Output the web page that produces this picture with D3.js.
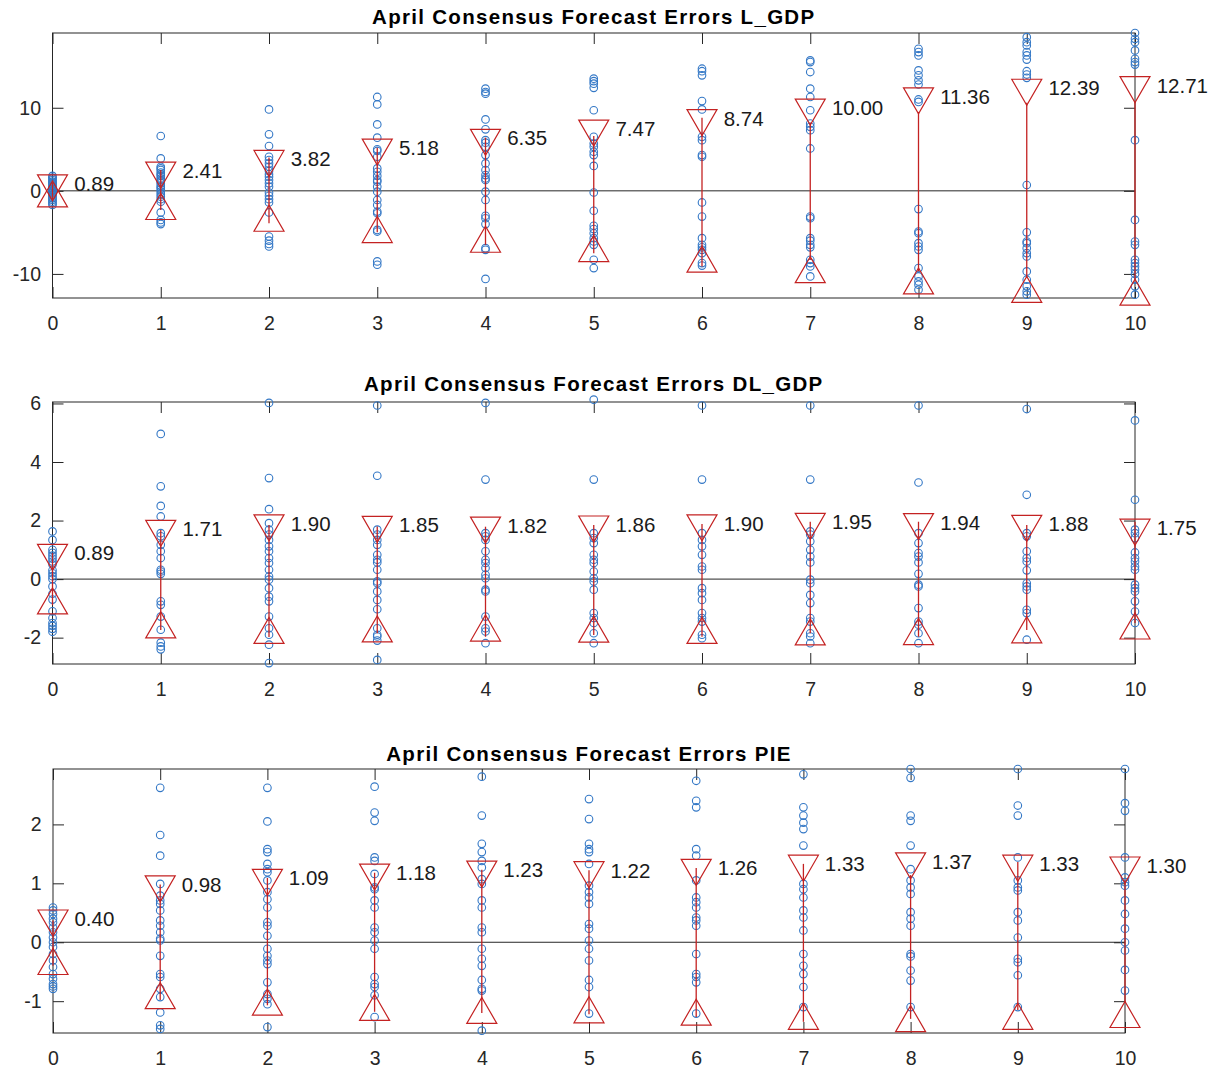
<!DOCTYPE html>
<html>
<head>
<meta charset="utf-8">
<script src="https://cdn.jsdelivr.net/npm/d3@7"></script>
<style>
  body { margin: 0; background: #fff; }
  svg { display: block; font-family: "Liberation Sans", Arial, sans-serif; }
</style>
</head>
<body>
<div id="chart"></div>
<script>
// horizons 0..10
var steps = [0, 1, 2, 3, 4, 5, 6, 7, 8, 9, 10];

// ---- L_GDP ----
var lgdpErrors = [
  [1.8, 1.6, 1.5, 1.3, 1.1, 1.0, 0.8, 0.6, 0.5, 0.3, 0.2, 0.1, 0.0, -0.1, -0.2, -0.4, -0.5, -0.7, -0.9, -1.1, -1.3, -1.5, -1.7],
  [6.6, 3.9, 2.9, 2.7, 2.5, 2.2, 2.0, 1.8, 1.5, 1.3, 1.1, 0.9, 0.6, 0.4, 0.2, -0.1, -0.4, -0.7, -1.0, -1.3, -2.6, -3.5, -3.8, -4.0],
  [9.8, 6.8, 5.4, 4.1, 3.7, 3.3, 2.9, 2.4, 2.0, 1.7, 1.3, 0.9, 0.5, -0.2, -0.6, -1.0, -1.4, -2.6, -5.5, -6.0, -6.4, -6.7],
  [11.3, 10.4, 8.0, 6.4, 5.0, 4.8, 4.1, 2.7, 2.3, 1.8, 1.3, 1.1, 0.5, -0.1, -1.1, -1.7, -2.5, -2.7, -4.7, -4.9, -8.5, -8.9],
  [12.3, 11.9, 11.7, 8.6, 7.4, 6.1, 5.8, 5.3, 4.3, 3.3, 2.5, 1.9, 1.5, 1.3, -0.1, -1.1, -3.0, -3.3, -4.0, -6.9, -7.1, -10.6],
  [13.5, 13.2, 12.9, 12.4, 9.7, 6.5, 5.7, 5.3, 4.7, 4.3, 3.0, -0.2, -2.4, -4.2, -4.6, -5.1, -5.7, -6.1, -6.5, -8.3, -9.3],
  [14.7, 14.4, 13.9, 10.8, 9.8, 6.5, 6.1, 4.3, 4.1, -1.4, -3.1, -5.7, -6.5, -6.8, -7.1, -7.5, -8.7, -9.0],
  [15.7, 15.5, 14.3, 12.3, 11.3, 9.7, 8.1, 7.7, 7.3, 5.1, -3.1, -3.3, -5.7, -6.0, -6.5, -6.8, -8.3, -8.7, -9.1, -10.3],
  [17.1, 16.7, 16.3, 14.5, 13.9, 13.3, 12.8, 11.0, 10.7, -2.2, -4.9, -5.1, -6.3, -6.7, -7.1, -9.3, -10.3, -10.9, -11.3, -11.9],
  [18.5, 17.9, 17.5, 16.7, 16.3, 15.8, 14.4, 14.0, 13.6, 0.7, -5.0, -6.1, -6.3, -6.9, -7.5, -7.9, -9.7, -10.7, -11.5, -12.1, -12.5],
  [19.0, 18.3, 17.9, 16.9, 15.9, 15.5, 15.2, 6.1, -3.5, -6.1, -6.5, -8.3, -8.7, -9.1, -9.5, -10.0, -10.7, -11.5, -12.5]
];
var lgdpSd = [0.89, 2.41, 3.82, 5.18, 6.35, 7.47, 8.74, 10.00, 11.36, 12.39, 12.71];
var lgdpBarHi = [1.0, 2.5, 4.0, 5.2, 6.4, 6.6, 8.8, 8.2, 9.5, 10.6, 10.8];
var lgdpBarLo = [-1.0, -2.3, -3.9, -5.0, -6.5, -7.5, -9.1, -8.3, -9.7, -10.5, -10.8];
var lgdpTicks = [-10, 0, 10];

// ---- DL_GDP ----
var dlgdpErrors = [
  [1.63, 1.34, 1.0, 0.9, 0.8, 0.7, 0.6, 0.5, 0.3, 0.2, 0.1, 0.0, -0.25, -0.5, -0.7, -1.1, -1.33, -1.5, -1.6, -1.7, -1.8],
  [4.96, 3.17, 2.5, 2.14, 1.57, 1.46, 1.17, 0.95, 0.72, 0.32, 0.26, 0.18, -0.76, -0.88, -1.28, -1.73, -2.17, -2.3, -2.4],
  [6.02, 3.45, 2.39, 1.91, 1.69, 1.52, 1.34, 1.12, 0.95, 0.72, 0.55, 0.32, 0.09, -0.02, -0.31, -0.6, -0.76, -1.28, -1.68, -1.9, -2.24, -2.87],
  [5.93, 3.53, 1.69, 1.52, 1.34, 1.17, 0.83, 0.66, 0.57, 0.32, -0.08, -0.14, -0.42, -0.71, -1.03, -1.68, -1.9, -1.96, -2.1, -2.76],
  [6.02, 3.4, 1.57, 1.46, 1.34, 0.95, 0.66, 0.55, 0.38, 0.15, 0.03, -0.36, -0.42, -1.28, -1.68, -1.79, -2.19],
  [6.13, 3.4, 1.57, 1.4, 1.23, 0.83, 0.66, 0.55, 0.26, 0.03, -0.08, -0.36, -1.16, -1.33, -1.5, -1.85, -2.19],
  [5.93, 3.4, 1.57, 1.34, 1.12, 0.83, 0.43, 0.32, -0.31, -0.48, -0.71, -1.16, -1.33, -1.45, -1.9, -2.02],
  [5.93, 3.4, 1.63, 1.52, 1.29, 1.0, 0.77, 0.57, -0.02, -0.14, -0.54, -0.82, -1.33, -1.45, -1.85, -1.96, -2.19],
  [5.93, 3.3, 1.57, 1.23, 0.89, 0.77, 0.57, 0.18, -0.19, -0.25, -0.99, -1.45, -1.56, -1.85, -2.19],
  [5.81, 2.88, 1.57, 1.46, 0.95, 0.72, 0.6, 0.3, -0.14, -0.25, -0.36, -1.05, -1.16, -2.07],
  [5.42, 2.71, 1.69, 1.57, 1.4, 0.91, 0.72, 0.6, 0.43, 0.32, -0.19, -0.31, -0.42, -0.76, -1.11, -1.5]
];
var dlgdpSd = [0.89, 1.71, 1.90, 1.85, 1.82, 1.86, 1.90, 1.95, 1.94, 1.88, 1.75];
var dlgdpBarHi = [0.89, 1.68, 1.85, 1.8, 1.79, 1.85, 1.88, 1.96, 1.96, 1.85, 1.96];
var dlgdpBarLo = [-0.89, -1.74, -1.98, -1.85, -1.97, -1.91, -1.97, -1.85, -1.97, -1.74, -1.5];
var dlgdpTicks = [-2, 0, 2, 4, 6];

// ---- PIE ----
var pieErrors = [
  [0.59, 0.54, 0.48, 0.4, 0.34, 0.25, 0.17, 0.08, 0.0, -0.08, -0.2, -0.31, -0.42, -0.54, -0.62, -0.71, -0.75, -0.79],
  [2.62, 1.82, 1.47, 0.99, 0.79, 0.71, 0.65, 0.54, 0.37, 0.28, 0.17, 0.06, 0.03, -0.23, -0.54, -0.59, -0.79, -0.93, -1.19, -1.41, -1.47],
  [2.62, 2.05, 1.58, 1.53, 1.33, 1.24, 1.19, 1.05, 0.85, 0.73, 0.59, 0.34, 0.28, 0.11, -0.11, -0.23, -0.31, -0.37, -0.68, -0.88, -0.96, -1.05, -1.44],
  [2.64, 2.2, 2.06, 1.44, 1.38, 1.16, 0.93, 0.9, 0.71, 0.59, 0.25, 0.17, 0.03, -0.11, -0.59, -0.71, -0.76, -0.9, -1.27],
  [2.81, 2.15, 1.67, 1.53, 1.38, 1.27, 1.07, 0.99, 0.71, 0.59, 0.25, 0.17, -0.11, -0.28, -0.4, -0.64, -0.79, -0.82, -1.5],
  [2.43, 2.09, 1.67, 1.58, 1.53, 1.33, 0.96, 0.85, 0.76, 0.65, 0.31, 0.23, 0.03, -0.11, -0.31, -0.64, -0.76, -1.21],
  [2.74, 2.4, 2.29, 1.58, 1.47, 1.05, 0.76, 0.68, 0.59, 0.42, 0.37, 0.28, -0.2, -0.54, -0.59, -0.68, -1.21],
  [2.85, 2.29, 2.15, 2.03, 1.92, 1.64, 0.99, 0.9, 0.76, 0.54, 0.42, 0.2, -0.2, -0.4, -0.54, -0.76, -1.1],
  [2.94, 2.79, 2.15, 2.06, 1.64, 1.24, 1.05, 0.93, 0.82, 0.51, 0.4, 0.28, -0.2, -0.24, -0.48, -0.65, -1.1],
  [2.94, 2.32, 2.15, 1.44, 1.05, 0.93, 0.88, 0.51, 0.37, 0.08, -0.28, -0.34, -0.56, -1.1],
  [2.94, 2.36, 2.23, 1.44, 1.1, 1.02, 0.96, 0.71, 0.48, 0.23, 0.0, -0.14, -0.47, -0.82]
];
var pieSd = [0.40, 0.98, 1.09, 1.18, 1.23, 1.22, 1.26, 1.33, 1.37, 1.33, 1.30];
var pieBarHi = [0.37, 0.98, 1.09, 1.18, 1.23, 1.22, 1.26, 1.33, 1.14, 1.36, 1.05];
var pieBarLo = [-0.4, -0.98, -1.07, -1.18, -1.2, -1.22, -1.27, -1.35, -1.3, -1.15, -1.03];
var pieTicks = [-1, 0, 1, 2];

var panels = [
  { title: "April Consensus Forecast Errors L_GDP", errors: lgdpErrors, sd: lgdpSd, hi: lgdpBarHi, lo: lgdpBarLo,
    ticks: lgdpTicks, yLim: [-12.9, 19.0], left: 52.5, right: 1135, top: 33, bottom: 298, titleY: 24 },
  { title: "April Consensus Forecast Errors DL_GDP", errors: dlgdpErrors, sd: dlgdpSd, hi: dlgdpBarHi, lo: dlgdpBarLo,
    ticks: dlgdpTicks, yLim: [-2.9, 6.05], left: 52.5, right: 1135, top: 402, bottom: 664, titleY: 391 },
  { title: "April Consensus Forecast Errors PIE", errors: pieErrors, sd: pieSd, hi: pieBarHi, lo: pieBarLo,
    ticks: pieTicks, yLim: [-1.54, 2.94], left: 53, right: 1125, top: 769, bottom: 1033, titleY: 761 }
];

var axisColor = "#262626",
    blue = "#3478c6",
    red = "#c42222",
    tickFont = 19.5,
    labelFont = 20.5,
    triW = 30,
    triH = 26;

var svg = d3.select("#chart")
  .append("svg")
  .attr("width", 1215)
  .attr("height", 1072);

function plain(d) { return String(d); }   // hyphen minus like the original

function styleAxis(sel) {
  sel.select(".domain").remove();
  sel.selectAll("line").attr("stroke", axisColor);
  sel.selectAll("text")
    .attr("fill", axisColor)
    .attr("font-size", tickFont)
    .attr("font-family", "Liberation Sans, Arial, sans-serif");
}

function drawPanel(p) {
  var x = d3.scaleLinear().domain([0, 10]).range([p.left, p.right]);
  var y = d3.scaleLinear().domain(p.yLim).range([p.bottom, p.top]);
  var g = svg.append("g");

  // ticks on all four sides, pointing inward
  g.append("g")
    .attr("transform", "translate(0," + p.bottom + ")")
    .call(d3.axisBottom(x).tickValues(steps).tickSize(-11).tickPadding(18).tickFormat(plain))
    .call(styleAxis);
  g.append("g")
    .attr("transform", "translate(0," + p.top + ")")
    .call(d3.axisTop(x).tickValues(steps).tickSize(-11).tickFormat(""))
    .call(styleAxis);
  g.append("g")
    .attr("transform", "translate(" + p.left + ",0)")
    .call(d3.axisLeft(y).tickValues(p.ticks).tickSize(-11).tickPadding(11.5).tickFormat(plain))
    .call(styleAxis);
  g.append("g")
    .attr("transform", "translate(" + p.right + ",0)")
    .call(d3.axisRight(y).tickValues(p.ticks).tickSize(-11).tickFormat(""))
    .call(styleAxis);

  g.append("rect")
    .attr("x", p.left)
    .attr("y", p.top)
    .attr("width", p.right - p.left)
    .attr("height", p.bottom - p.top)
    .attr("fill", "none")
    .attr("stroke", axisColor)
    .attr("stroke-width", 1);

  // zero line
  g.append("line")
    .attr("x1", p.left).attr("x2", p.right)
    .attr("y1", y(0)).attr("y2", y(0))
    .attr("stroke", axisColor);

  // the errors
  var pts = [];
  p.errors.forEach(function(col, i) {
    col.forEach(function(v) { pts.push({ step: steps[i], v: v }); });
  });
  g.selectAll(".pt")
    .data(pts)
    .enter().append("circle")
    .attr("class", "pt")
    .attr("cx", function(d) { return x(d.step); })
    .attr("cy", function(d) { return y(d.v); })
    .attr("r", 3.8)
    .attr("fill", "none")
    .attr("stroke", blue)
    .attr("stroke-width", 1.1);

  // red bars
  g.selectAll(".bar")
    .data(steps)
    .enter().append("line")
    .attr("class", "bar")
    .attr("x1", function(d) { return x(d); })
    .attr("x2", function(d) { return x(d); })
    .attr("y1", function(d, i) { return y(p.hi[i]); })
    .attr("y2", function(d, i) { return y(p.lo[i]); })
    .attr("stroke", red)
    .attr("stroke-width", 1.3);

  // triangles, centroid on +/- sd
  g.selectAll(".tri-down")
    .data(steps)
    .enter().append("path")
    .attr("class", "tri-down")
    .attr("d", function(d, i) {
      var cx = x(d), cy = y(p.sd[i]);
      return "M" + (cx - triW / 2) + "," + (cy - triH / 3) +
             "L" + (cx + triW / 2) + "," + (cy - triH / 3) +
             "L" + cx + "," + (cy + 2 * triH / 3) + "Z";
    })
    .attr("fill", "none")
    .attr("stroke", red)
    .attr("stroke-width", 1.2);

  g.selectAll(".tri-up")
    .data(steps)
    .enter().append("path")
    .attr("class", "tri-up")
    .attr("d", function(d, i) {
      var cx = x(d), cy = y(-p.sd[i]);
      return "M" + (cx - triW / 2) + "," + (cy + triH / 3) +
             "L" + (cx + triW / 2) + "," + (cy + triH / 3) +
             "L" + cx + "," + (cy - 2 * triH / 3) + "Z";
    })
    .attr("fill", "none")
    .attr("stroke", red)
    .attr("stroke-width", 1.2);

  // sd labels
  g.selectAll(".lbl")
    .data(steps)
    .enter().append("text")
    .attr("class", "lbl")
    .attr("x", function(d) { return x(d + 0.2); })
    .attr("y", function(d, i) { return y(p.sd[i]); })
    .attr("dy", "0.36em")
    .attr("font-size", labelFont)
    .attr("fill", "#1a1a1a")
    .text(function(d, i) { return p.sd[i].toFixed(2); });

  g.append("text")
    .attr("x", (p.left + p.right) / 2)
    .attr("y", p.titleY)
    .attr("text-anchor", "middle")
    .attr("font-size", 20.5)
    .attr("font-weight", "bold")
    .attr("letter-spacing", 1.3)
    .attr("fill", "#000")
    .text(p.title);
}

panels.forEach(drawPanel);
</script>
</body>
</html>
